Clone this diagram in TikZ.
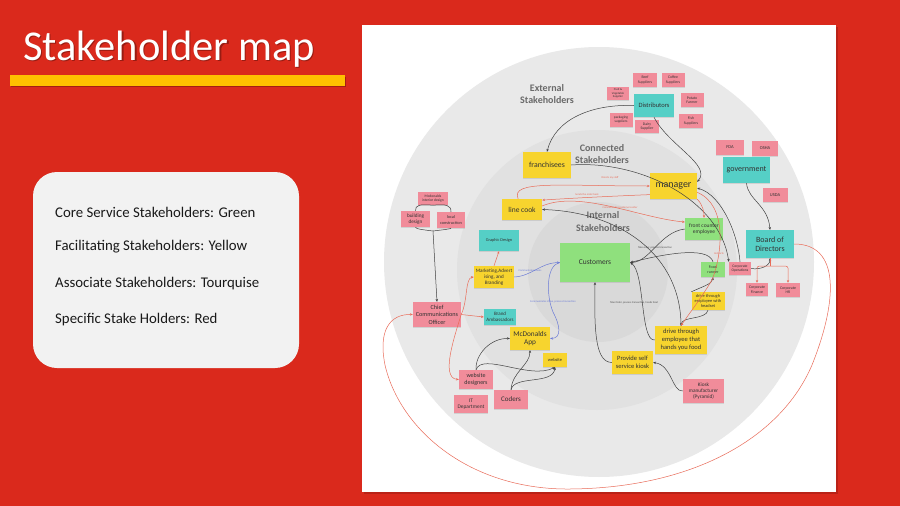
\documentclass[tikz,border=0pt]{standalone}
\usepackage{fontspec}
\setmainfont{Carlito}
\usetikzlibrary{arrows.meta,shadows}

\definecolor{slideRed}{HTML}{DA291C}
\definecolor{barY}{HTML}{FFC000}
\definecolor{legendBg}{HTML}{F2F2F2}
\definecolor{ringOuter}{HTML}{E9E9E9}
\definecolor{ringMid}{HTML}{E1E1E1}
\definecolor{ringIn}{HTML}{D9D9D9}
\definecolor{noteY}{HTML}{F7D42E}
\definecolor{noteG}{HTML}{8FE07D}
\definecolor{noteT}{HTML}{55CFC6}
\definecolor{noteP}{HTML}{F18C9A}
\definecolor{lineR}{HTML}{E96B58}
\definecolor{lineB}{HTML}{6B7BD6}
\definecolor{ringText}{HTML}{6A6A6A}

\tikzset{
  fs/.style 2 args={font=\fontsize{#1}{#2}\selectfont},
  sz/.style 2 args={minimum width=#1pt, minimum height=#2pt},
  note/.style={inner sep=0.5pt, align=center, text=black!80,
    drop shadow={shadow xshift=0.4pt, shadow yshift=-0.9pt, opacity=0.22}},
  ny/.style={note, fill=noteY},
  ng/.style={note, fill=noteG},
  nt/.style={note, fill=noteT},
  np/.style={note, fill=noteP},
  ringlabel/.style={align=center, text=ringText, font=\fontsize{10}{12.5}\selectfont\bfseries},
  dk/.style={draw=black!75, line width=0.5pt},
  rd/.style={draw=lineR, line width=0.5pt},
  bl/.style={draw=lineB, line width=0.5pt},
  tip/.style={-{Stealth[length=2.8pt,width=2.4pt]}},
  elab/.style={fs={2.7}{3.1}, inner sep=0.3pt},
  legendtext/.style={anchor=west, inner sep=0pt, text=black!90, fs={14.8}{17}}
}

\begin{document}
\begin{tikzpicture}[x=1pt, y=-1pt]
\useasboundingbox (0,0) rectangle (900,506);
\fill[slideRed] (0,0) rectangle (900,506);

% title and underline bar
\node[anchor=base west, inner sep=0pt, text=black, opacity=0.3, fs={42.5}{45}] (titleshadow) at (24.2,61.3) {Stakeholder map};
\node[anchor=base west, inner sep=0pt, text=white, fs={42.5}{45}] (title) at (23,60) {Stakeholder map};
\fill[black, opacity=0.25] (11,76.5) rectangle (346,87);
\fill[barY] (10,75) rectangle (345,85.5);

% legend card
\fill[legendBg, rounded corners=24pt] (33,172) rectangle (299,368);
\node[legendtext] (lg1) at (55,212) {Core Service Stakeholders: Green};
\node[legendtext] (lg2) at (55,247) {Facilitating Stakeholders: Yellow};
\node[legendtext] (lg3) at (55,284) {Associate Stakeholders: Tourquise};
\node[legendtext] (lg4) at (55,320) {Specific Stake Holders: Red};

% map panel
\fill[black, opacity=0.15] (363.5,26.5) rectangle (837.5,493.5);
\fill[white] (362,25) rectangle (836,492);

% stakeholder rings
\fill[ringOuter] (599,262) circle (215pt);
\fill[ringMid] (597,270) circle (140pt);
\fill[ringIn] (598,272) circle (70pt);

\node[ringlabel] (extlab) at (547,94) {External\\Stakeholders};
\node[ringlabel] (conlab) at (602,154) {Connected\\Stakeholders};
\node[ringlabel] (intlab) at (603,221.5) {Internal\\Stakeholders};

% supplier notes
\node[np, sz={24}{14}, fs={3.8}{4.4}] (beef) at (645,80) {Beef\\Suppliers};
\node[np, sz={23}{14}, fs={3.8}{4.4}] (coffee) at (673,80) {Coffee\\Suppliers};
\node[np, sz={22}{13}, fs={3}{3.4}] (fruit) at (618,93.5) {Fruit \&\\Vegetable\\Supplier};
\node[np, sz={23}{14}, fs={3.8}{4.4}] (potato) at (692,100) {Potato\\Farmer};
\node[np, sz={23}{14}, fs={3.5}{4.1}] (pack) at (621,120) {packaging\\suppliers};
\node[np, sz={24}{13}, fs={3.8}{4.4}] (dairy) at (647,126.5) {Dairy\\Supplier};
\node[np, sz={24}{14}, fs={3.8}{4.4}] (fish) at (691,121) {Fish\\Suppliers};
\node[nt, sz={40}{23}, fs={6.5}{7.5}] (dist) at (654,105.5) {Distributors};

% regulators and corporate
\node[np, sz={28}{15}, fs={4.5}{5}] (fda) at (730,147.5) {FDA};
\node[np, sz={26}{15}, fs={4.5}{5}] (osha) at (765,148.5) {OSHA};
\node[nt, sz={47}{26}, fs={8}{9}] (gov) at (746.5,170) {government};
\node[np, sz={25}{14}, fs={4.5}{5}] (usda) at (775,195) {USDA};
\node[nt, sz={48}{28}, fs={8}{9.5}] (bod) at (770,244) {Board of\\Directors};
\node[np, sz={22}{13}, fs={3.7}{4.2}] (corpops) at (740,268.5) {Corporate\\Operations};
\node[np, sz={22}{13}, fs={3.9}{4.5}] (corpfin) at (757,289.5) {Corporate\\Finance};
\node[np, sz={24}{14}, fs={3.9}{4.5}] (corphr) at (788,290) {Corporate\\HR};

% restaurant staff
\node[ny, sz={48}{26}, fs={7.8}{9}] (fran) at (547,165) {franchisees};
\node[ny, sz={47}{26}, fs={10}{11}] (mgr) at (673.5,186) {manager};
\node[ny, sz={40}{21}, fs={7.5}{8.5}] (cook) at (522,209.5) {line cook};
\node[ng, sz={38}{22}, fs={5.5}{6.8}] (fce) at (704,229) {front counter\\employee};
\node[ng, sz={70}{39}, fs={7.5}{8.5}] (cust) at (595,262.5) {Customers};
\node[ng, sz={24}{15}, fs={4}{4.8}] (runner) at (713,269.5) {Food\\runner};
\node[ny, sz={33}{18}, fs={4.4}{5.2}] (headset) at (708,301) {drive through\\employee with\\headset};
\node[ny, sz={52}{28}, fs={6.5}{7.8}] (dthf) at (681,340) {drive through\\employee that\\hands you food};
\node[ny, sz={41}{23}, fs={6.5}{7.8}] (kiosk) at (632.5,362.5) {Provide self\\service kiosk};
\node[np, sz={41}{24}, fs={5.3}{6.4}] (kman) at (703.5,391) {Kiosk\\manufacturer\\(Pyramid)};

% design, marketing and digital
\node[np, sz={30}{13}, fs={3.7}{4.3}] (mid) at (433,198.5) {Mcdonalds\\interior design};
\node[np, sz={29}{16}, fs={5.2}{6}] (bld) at (415.5,219) {building\\design};
\node[np, sz={28}{16}, fs={4.3}{5.2}] (loc) at (451,220) {local\\construction};
\node[nt, sz={40}{21}, fs={4.3}{5}] (gd) at (499,240.5) {Graphic Design};
\node[ny, sz={40}{22}, fs={5.1}{6.1}] (mkt) at (494,277) {Marketing,Advert\\ising, and\\Branding};
\node[np, sz={48}{25}, fs={6.2}{7.4}] (cco) at (437,314.5) {Chief\\Communications\\Officer};
\node[nt, sz={32}{16}, fs={5}{6}] (ba) at (500,317) {Brand\\Ambassadors};
\node[ny, sz={40}{23}, fs={7.3}{8.6}] (app) at (530,338.5) {McDonalds\\App};
\node[ny, sz={24}{14}, fs={4.5}{5}] (web) at (555,360) {website};
\node[np, sz={34}{19}, fs={6}{7.2}] (wdes) at (476,379.5) {website\\designers};
\node[np, sz={34}{18}, fs={5.4}{6.5}] (itd) at (471,404) {IT\\Department};
\node[np, sz={34}{19}, fs={7}{8}] (coders) at (511,399.5) {Coders};

% ---- dark connectors ----
\draw[dk, tip] (dist.west) .. controls (590,104) and (555,120) .. (fran.north);
\draw[dk, tip] (dist.south) .. controls (668,145) and (712,165) .. (mgr.10);
\draw[dk, tip] (gov.south) .. controls (748,200) and (768,205) .. (bod.north);
\draw[dk, tip] (corpops.east) .. controls (760,270) and (770,266) .. (bod.south);
\draw[dk, tip] (corpops.north) .. controls (738,235) and (722,195) .. (mgr.-5);
\draw[dk, tip] (fran.east) .. controls (640,160) and (720,200) .. (corpops.north west);
\draw[dk, tip] (fce.west) .. controls (660,232) and (650,262) .. (cust.east);
\draw[dk, tip] (runner.north) .. controls (708,245) and (660,255) .. (cust.east);
\draw[dk, tip] (dthf.west) .. controls (640,342) and (645,272) .. (cust.east);
\draw[dk, tip] (kiosk.west) .. controls (596,362) and (594,335) .. (cust.south);
\draw[dk, tip] (kman.west) .. controls (672,392) and (672,365) .. (kiosk.east);
\draw[dk, tip] (headset.north west) .. controls (704,286) and (712,284) .. (runner.south);
\draw[dk, tip] (headset.south) .. controls (706,320) and (682,316) .. (dthf.north);
\draw[dk, tip] (dthf.north) .. controls (681,255) and (620,212) .. (cook.east);
\draw[dk] (mid.south) .. controls (420,204) and (415,205) .. (bld.north);
\draw[dk] (mid.south) .. controls (446,204) and (451,205) .. (loc.north);
\coordinate (join) at (433,231);
\draw[dk] (bld.south) .. controls (415,229) and (425,230) .. (join);
\draw[dk] (loc.south) .. controls (451,229) and (441,230) .. (join);
\draw[dk, tip] (join) -- (cco.north);
\draw[dk, tip] (coders.north) .. controls (512,372) and (530,365) .. (app.south);
\draw[dk, tip] (coders.north) .. controls (514,375) and (553,385) .. (web.south);
\draw[dk, tip] (wdes.north) .. controls (475,355) and (490,338) .. (app.west);
\draw[dk, tip] (wdes.north) .. controls (482,352) and (530,380) .. (web.south);

\node[elab, text=black!70] (l1) at (655,248) {Take order, process transaction};
\node[elab, text=black!70] (l2) at (634,303) {Take Order, process transaction, hands food};

% ---- red connectors ----
\draw[rd, tip] (cco.east) .. controls (468,300) and (465,278) .. (mkt.west);
\draw[rd, tip] (mkt.north) -- (gd.south);
\draw[rd, tip] (cco.east) -- (ba.west);
\draw[rd, tip] (cco.east) .. controls (455,335) and (440,378) .. (wdes.west);
\draw[rd, tip] (bod.east) .. controls (840,244) and (838,300) .. (812,365)
  .. controls (780,440) and (690,488) .. (570,489)
  .. controls (470,490) and (400,430) .. (385,365)
  .. controls (378,330) and (390,314) .. (cco.west);
\draw[rd, tip] (cook.110) .. controls (510,180) and (560,186) .. (mgr.west);
\draw[rd, tip] (mgr.200) .. controls (615,196) and (575,198) .. (cook.25);
\draw[rd, tip] (cook.10) .. controls (580,190) and (640,218) .. (fce.160);
\draw[rd, tip] (mgr.south east) .. controls (703,205) and (704,212) .. (fce.north);
\draw[rd, tip] (mgr.-15) .. controls (728,205) and (722,255) .. (712,280)
  .. controls (700,300) and (688,315) .. (dthf.north);
\draw[rd] (bod.south) -- ++(0,8) coordinate (split);
\draw[rd, tip, rounded corners=2pt] (split) -| (corpfin.north);
\draw[rd, tip, rounded corners=2pt] (split) -| (corphr.north);

\node[elab, text=lineR] (l3) at (610,178) {Directs my staff};
\node[elab, text=lineR] (l4) at (587,195) {Sends the order back};
\node[elab, text=lineR] (l5) at (620,208) {Communicates customers order};
\node[elab, text=lineR] (l6) at (719,254) {Instructs};

% ---- blue connectors ----
\draw[bl, tip] (mkt.east) .. controls (532,276) and (540,263) .. (cust.west);
\draw[bl, tip] (cust.west) .. controls (546,265) and (546,295) .. (553,312)
  .. controls (560,325) and (562,338) .. (app.east);
\node[elab, text=lineB] (l7) at (530,271) {Communicates deals};
\node[elab, text=lineB] (l8) at (553,302) {Communicates Value, process transaction};

\end{tikzpicture}
\end{document}
